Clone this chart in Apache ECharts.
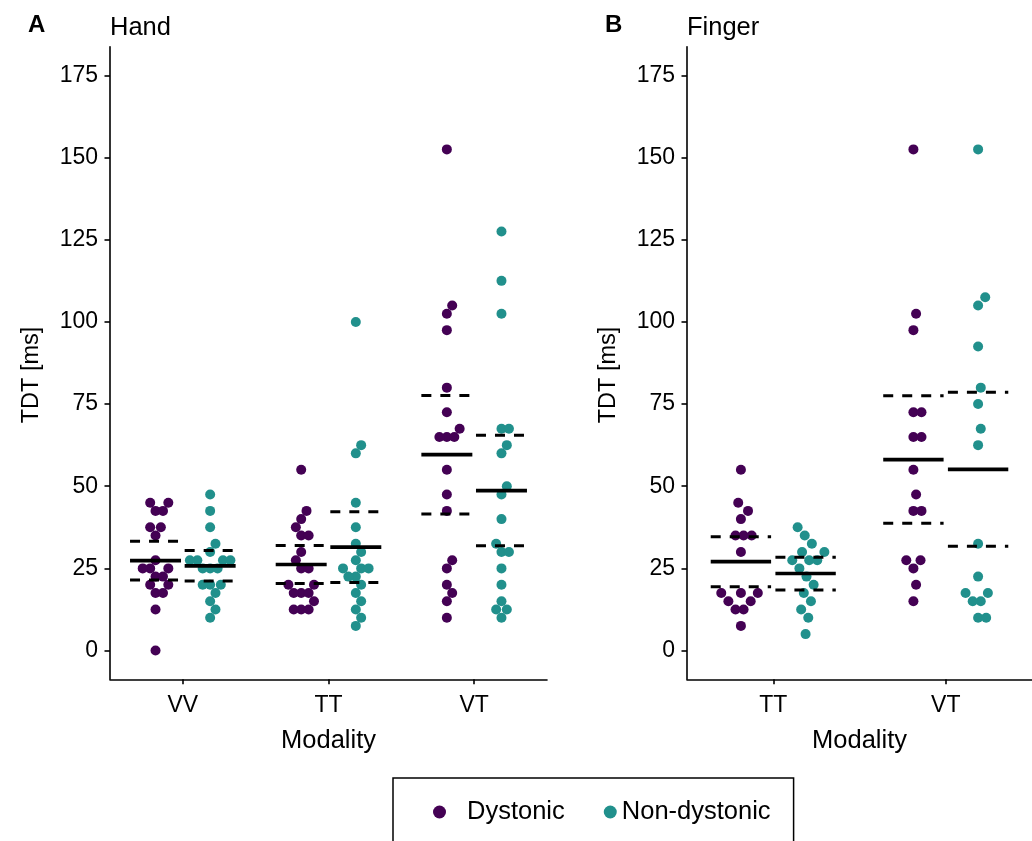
<!DOCTYPE html>
<html><head><meta charset="utf-8">
<script src="https://cdn.jsdelivr.net/npm/echarts@6/dist/echarts.min.js"></script>
<style>html,body{margin:0;padding:0;background:#fff}#c{width:1032px;height:841px}</style>
</head><body><div id="c"></div>
<script>
// ---------- data ----------
const handCategories = ['VV', 'TT', 'VT'];
const fingerCategories = ['TT', 'VT'];
const yTicks = [0, 25, 50, 75, 100, 125, 150, 175];
const groupNames = ['Dystonic', 'Non-dystonic'];
const groupColors = ['#440154', '#21908C'];

// Hand (panel A), TDT in ms
const handVVDystonic    = [45,45,42.5,42.5,37.5,37.5,35,27.5,25,25,25,22.5,22.5,20,20,17.5,17.5,12.5,0];
const handVVNonDystonic = [10,12.5,15,17.5,20,20,20,25,25,25,27.5,27.5,27.5,27.5,30,32.5,37.5,42.5,47.5];
const handTTDystonic    = [12.5,12.5,12.5,15,17.5,17.5,17.5,20,20,25,25,27.5,30,35,35,37.5,40,42.5,55];
const handTTNonDystonic = [7.5,10,12.5,15,17.5,20,22.5,22.5,25,25,25,27.5,30,32.5,37.5,45,60,62.5,100];
const handVTDystonic    = [10,15,17.5,20,25,27.5,42.5,47.5,55,65,65,65,67.5,72.5,80,97.5,102.5,105,152.5];
const handVTNonDystonic = [10,12.5,12.5,15,20,25,30,30,32.5,40,47.5,50,60,62.5,67.5,67.5,102.5,112.5,127.5];

// Finger (panel B), TDT in ms
const fingerTTDystonic    = [7.5,12.5,12.5,15,15,17.5,17.5,17.5,30,35,35,35,40,42.5,45,55];
const fingerTTNonDystonic = [5,10,12.5,15,17.5,20,22.5,25,27.5,27.5,27.5,30,30,32.5,35,37.5];
const fingerVTDystonic    = [15,20,25,27.5,27.5,42.5,42.5,47.5,55,65,65,72.5,72.5,97.5,102.5,152.5];
const fingerVTNonDystonic = [10,10,15,15,17.5,17.5,22.5,32.5,62.5,67.5,75,80,92.5,105,107.5,152.5];

// ---------- helpers ----------
const FONT = 'Liberation Sans, Arial, Helvetica, sans-serif';
const TITLE_SIZE = 25.5, TICK_SIZE = 23;
const DODGE = 0.1875, HALF = 0.175;

function lgamma(x){const c=[0.99999999999980993,676.5203681218851,-1259.1392167224028,771.32342877765313,-176.61503916999185,12.507343278686905,-0.13857109526572012,9.9843695780195716e-6,1.5056327351493116e-7];
  if(x<0.5) return Math.log(Math.PI/Math.sin(Math.PI*x))-lgamma(1-x);
  x-=1;let a=c[0];const t=x+7.5;for(let i=1;i<9;i++)a+=c[i]/(x+i);
  return 0.5*Math.log(2*Math.PI)+(x+0.5)*Math.log(t)-t+Math.log(a);}
function tCdf(x,df){const k=Math.exp(lgamma((df+1)/2)-lgamma(df/2))/Math.sqrt(df*Math.PI);
  const f=t=>k*Math.pow(1+t*t/df,-(df+1)/2);const n=400,h=x/n;let s=f(0)+f(x);
  for(let i=1;i<n;i++)s+=f(i*h)*(i%2?4:2);return 0.5+s*h/3;}
function tQ975(df){let lo=0,hi=20;for(let i=0;i<60;i++){const m=(lo+hi)/2;if(tCdf(m,df)<0.975)lo=m;else hi=m;}return (lo+hi)/2;}
function stats(v){const n=v.length,m=v.reduce((a,b)=>a+b,0)/n;
  const sd=Math.sqrt(v.reduce((a,b)=>a+(b-m)*(b-m),0)/(n-1));const e=tQ975(n-1)*sd/Math.sqrt(n);
  return {mean:m,lo:m-e,hi:m+e};}
// beeswarm "swarm" layout (ascending priority): dv = vertical dot size (ms), gw = horizontal dot size (axis units)
function swarm(v,dv,gw){const idx=v.map((_,i)=>i).sort((a,b)=>v[a]-v[b]);const placed=[];const out=new Array(v.length);
  idx.forEach(i=>{const xi=v[i]/dv;const pre=placed.filter(p=>Math.abs(xi-p.x)<1);let y=0;
    if(pre.length){const offs=pre.map(p=>Math.sqrt(1-(xi-p.x)*(xi-p.x)));
      const cands=[0].concat(pre.map((p,k)=>p.y+offs[k]),pre.map((p,k)=>p.y-offs[k]));
      let best=Infinity,bi=-1;cands.forEach((c,j)=>{const bad=pre.some(p=>(xi-p.x)*(xi-p.x)+(c-p.y)*(c-p.y)<0.999);
        const a=bad?Infinity:Math.abs(c);if(a<best){best=a;bi=j;}});y=cands[bi];}
    placed.push({x:xi,y:y});out[i]=y*gw;});return out;}

function buildPanel(groups,dv,gw){const pts=[[],[]],lines=[];
  groups.forEach((pair,ci)=>{pair.forEach((vals,gi)=>{const cx=ci+1+(gi?DODGE:-DODGE);
    const off=swarm(vals,dv,gw);vals.forEach((v,k)=>pts[gi].push([cx+off[k],v]));
    const s=stats(vals);lines.push([cx-HALF,cx+HALF,s.mean,0],[cx-HALF,cx+HALF,s.lo,1],[cx-HALF,cx+HALF,s.hi,1]);});});
  return {pts,lines};}

const panelA = buildPanel([[handVVDystonic,handVVNonDystonic],[handTTDystonic,handTTNonDystonic],[handVTDystonic,handVTNonDystonic]],3.58,0.0512);
const panelB = buildPanel([[fingerTTDystonic,fingerTTNonDystonic],[fingerVTDystonic,fingerVTNonDystonic]],5.3,0.0468);

// ---------- chart ----------
const axisLineStyle={color:'#000',width:1.6};
function xAxis(gi,cats){return {type:'value',gridIndex:gi,min:0.5,max:cats.length+0.5,
  axisLine:{show:true,onZero:false,lineStyle:axisLineStyle},splitLine:{show:false},
  axisTick:{show:true,length:5,lineStyle:axisLineStyle,customValues:cats.map((_,i)=>i+1)},
  axisLabel:{customValues:cats.map((_,i)=>i+1),formatter:v=>cats[Math.round(v)-1]||'',fontSize:TICK_SIZE,color:'#000',fontFamily:FONT,margin:15},
  name:'Modality',nameLocation:'middle',nameGap:49,nameTextStyle:{fontSize:TITLE_SIZE,color:'#000',fontFamily:FONT}};}
function yAxis(gi){return {type:'value',gridIndex:gi,min:-8.75,max:183.75,
  axisLine:{show:true,onZero:false,lineStyle:axisLineStyle},splitLine:{show:false},
  axisTick:{show:true,length:5.5,lineStyle:axisLineStyle,customValues:yTicks},
  axisLabel:{customValues:yTicks,fontSize:TICK_SIZE,color:'#000',fontFamily:FONT,margin:12},
  name:'TDT [ms]',nameLocation:'middle',nameGap:66,nameTextStyle:{fontSize:23.5,color:'#000',fontFamily:FONT,padding:[0,24,0,0]}};}
function lineSeries(gi,data){return {type:'custom',xAxisIndex:gi,yAxisIndex:gi,z:5,silent:true,
  encode:{x:[0,1],y:2},data:data,
  renderItem:(params,api)=>{const a=api.coord([api.value(0),api.value(2)]),b=api.coord([api.value(1),api.value(2)]);const d=api.value(3);
    return {type:'line',shape:{x1:a[0],y1:a[1],x2:b[0],y2:b[1]},style:{stroke:'#000',lineWidth:d?3:3.7,lineDash:d?[10,9]:null}};}};}
function dotSeries(gi,k,data){return {type:'scatter',name:groupNames[k],xAxisIndex:gi,yAxisIndex:gi,data:data,
  symbol:'circle',symbolSize:10,itemStyle:{color:groupColors[k],opacity:1},z:3};}

const chart=echarts.init(document.getElementById('c'),null,{renderer:'canvas'});
chart.setOption({
  animation:false,backgroundColor:'#fff',
  textStyle:{fontFamily:FONT},
  title:[
    {text:'A',left:28,top:13,padding:0,textStyle:{fontSize:24,fontWeight:'bold',color:'#000',fontFamily:FONT}},
    {text:'Hand',left:110,top:15,padding:0,textStyle:{fontSize:TITLE_SIZE,fontWeight:'normal',color:'#000',fontFamily:FONT}},
    {text:'B',left:605,top:13,padding:0,textStyle:{fontSize:24,fontWeight:'bold',color:'#000',fontFamily:FONT}},
    {text:'Finger',left:687,top:15,padding:0,textStyle:{fontSize:TITLE_SIZE,fontWeight:'normal',color:'#000',fontFamily:FONT}}
  ],
  grid:[{left:110,top:46.7,width:437,height:632.6},{left:687,top:46.7,width:345,height:632.6}],
  xAxis:[xAxis(0,handCategories),xAxis(1,fingerCategories)],
  yAxis:[yAxis(0),yAxis(1)],
  legend:{left:393,top:778,padding:[21,23,40,40],itemGap:39,itemWidth:13,itemHeight:13,icon:'circle',
    borderColor:'#000',borderWidth:1.5,textStyle:{fontSize:TITLE_SIZE,color:'#000',fontFamily:FONT},
    data:[{name:'Dystonic',textStyle:{padding:[0,0,0,16]}},{name:'Non-dystonic'}]},
  series:[dotSeries(0,0,panelA.pts[0]),dotSeries(0,1,panelA.pts[1]),dotSeries(1,0,panelB.pts[0]),dotSeries(1,1,panelB.pts[1]),
    lineSeries(0,panelA.lines),lineSeries(1,panelB.lines)]
});
</script></body></html>
